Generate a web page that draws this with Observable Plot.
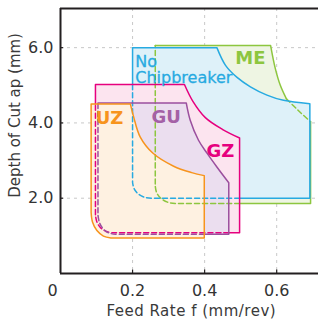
<!DOCTYPE html>
<html><head><meta charset="utf-8">
<script src="https://cdn.jsdelivr.net/npm/d3@7"></script>
<script src="https://cdn.jsdelivr.net/npm/@observablehq/plot@0.6"></script>
<style>body{margin:0;background:#fff;} svg{display:block}</style>
</head><body><div id="chart"></div>
<script>
// ---- data (feed rate mm/rev, depth of cut mm, sharp-corner flag) ----
const xTicks = [0.2, 0.4, 0.6];
const yTicks = [2, 4, 6];
const xLabel = "Feed Rate f (mm/rev)";
const yLabel = "Depth of Cut ap (mm)";

const labelNames = ["ME", "No\nChipbreaker", "GZ", "GU", "UZ"];
const labelFeed  = [0.527, 0.2075, 0.444, 0.293, 0.136];
const labelDepth = [5.71, 5.80, 3.26, 4.15, 4.12];

const meOutline = [
  [0.263, 6.06, 1], [0.583, 6.06, 1], [0.596, 5.45, 0], [0.610, 5.00, 0], [0.627, 4.64, 0],
  [0.660, 4.33, 0], [0.694, 4.03, 1], [0.694, 1.86, 1], [0.497, 1.86, 1], [0.318, 1.86, 1],
  [0.297, 1.895, 0], [0.279, 1.995, 0], [0.267, 2.144, 0], [0.263, 2.32, 1]
];
const noneOutline = [
  [0.200, 6.00, 1], [0.434, 6.00, 1], [0.458, 5.53, 0], [0.490, 5.21, 0], [0.527, 4.96, 0],
  [0.573, 4.74, 0], [0.619, 4.60, 0], [0.692, 4.51, 1], [0.692, 2.00, 1], [0.497, 2.00, 1],
  [0.252, 2.00, 1], [0.232, 2.03, 0], [0.215, 2.12, 0], [0.204, 2.26, 0], [0.200, 2.42, 1],
  [0.200, 5.02, 1]
];
const gzOutline = [
  [0.097, 5.02, 1], [0.344, 5.02, 1], [0.367, 4.58, 0], [0.402, 4.14, 0], [0.449, 3.83, 0],
  [0.497, 3.60, 1], [0.497, 1.08, 1], [0.467, 1.08, 1], [0.146, 1.08, 1], [0.127, 1.116, 0],
  [0.111, 1.218, 0], [0.101, 1.37, 0], [0.097, 1.55, 1], [0.097, 4.50, 1]
];
const guOutline = [
  [0.104, 4.53, 1], [0.349, 4.53, 1], [0.360, 4.07, 0], [0.383, 3.54, 0], [0.407, 3.19, 0],
  [0.434, 2.83, 0], [0.467, 2.41, 1], [0.467, 1.04, 1], [0.399, 1.04, 1], [0.153, 1.04, 1],
  [0.134, 1.079, 0], [0.118, 1.19, 0], [0.108, 1.355, 0], [0.104, 1.55, 1], [0.104, 4.50, 1]
];
const uzOutline = [
  [0.085, 4.50, 1], [0.194, 4.50, 1], [0.203, 4.16, 0], [0.221, 3.63, 0], [0.256, 3.20, 0],
  [0.314, 2.85, 0], [0.364, 2.68, 0], [0.399, 2.60, 1], [0.399, 0.945, 1], [0.140, 0.945, 1],
  [0.119, 0.995, 0], [0.101, 1.14, 0], [0.089, 1.36, 0], [0.085, 1.62, 1]
];

// ---- styling ----
const regions = [
  {outline: meOutline,   stroke: "#8dc63f", fill: "#eef5e3", solid: [[0, 4], [6, 8]], dashed: [[4, 6], [8, 0]]},
  {outline: noneOutline, stroke: "#27aae1", fill: "#def1f9", solid: [[15, 9]], dashed: [[9, 15]]},
  {outline: gzOutline,   stroke: "#e6007e", fill: "#fce4ef", solid: [[13, 7]], dashed: [[7, 13]]},
  {outline: guOutline,   stroke: "#9b4f9e", fill: "#ebdeef", solid: [[14, 8]], dashed: [[8, 14]]},
  {outline: uzOutline,   stroke: "#f7941d", fill: "#fef1e1", solid: [[0, 0]], dashed: []}
];
const labelColors = ["#8dc63f", "#27aae1", "#e6007e", "#a461a6", "#f7941d"];

function expand(pts) {
  const out = [];
  for (const p of pts) {
    out.push({x: p[0], y: p[1]});
    if (p[2]) out.push({x: p[0], y: p[1]});
  }
  return out;
}
function piece(outline, a, b) {
  const n = outline.length;
  const count = a === b ? n + 1 : ((b - a + n) % n) + 1;
  const pts = [];
  for (let k = 0; k < count; k++) pts.push(outline[(a + k) % n]);
  return expand(pts);
}

const marks = [];
// grid
marks.push(Plot.ruleX(xTicks, {x: d => d, stroke: "#c8c8c8", strokeDasharray: "3,4"}));
marks.push(Plot.ruleY(yTicks, {y: d => d, stroke: "#c8c8c8", strokeDasharray: "3,4"}));
// fills
for (const r of regions) {
  marks.push(Plot.line(piece(r.outline, 0, 0), {x: "x", y: "y", curve: "catmull-rom", fill: r.fill, stroke: "none"}));
}
// outlines
for (const r of regions) {
  for (const [a, b] of r.dashed)
    marks.push(Plot.line(piece(r.outline, a, b), {x: "x", y: "y", curve: "catmull-rom", stroke: r.stroke, strokeWidth: 1.5, strokeDasharray: "5,3"}));
  for (const [a, b] of r.solid)
    marks.push(Plot.line(piece(r.outline, a, b), {x: "x", y: "y", curve: "catmull-rom", stroke: r.stroke, strokeWidth: 1.5}));
}
// region labels
const labelData = labelNames.map((name, i) => ({name, x: labelFeed[i], y: labelDepth[i], c: labelColors[i]}));
marks.push(Plot.text(labelData.filter(d => !d.name.includes("\n")), {
  x: "x", y: "y", text: "name", fill: d => d.c, fontSize: 18, fontWeight: "bold", lineAnchor: "middle"
}));
marks.push(Plot.text(labelData.filter(d => d.name.includes("\n")), {
  x: "x", y: "y", text: "name", fill: d => d.c, fontSize: 16, textAnchor: "start", lineAnchor: "top", lineHeight: 1.0,
  stroke: d => d.c, strokeWidth: 0.3
}));
// frame
const yTop = 7.04;
marks.push(Plot.ruleX([0], {x: d => d, stroke: "#231f20", strokeWidth: 2}));
marks.push(Plot.ruleY([0, yTop], {y: d => d, stroke: "#231f20", strokeWidth: 2}));
marks.push(Plot.ruleX(xTicks, {x: d => d, y1: 0, y2: 0.09, stroke: "#231f20", strokeWidth: 1.2}));
marks.push(Plot.ruleY(yTicks, {y: d => d, x1: 0, x2: 0.009, stroke: "#231f20", strokeWidth: 1.2}));
// tick labels
marks.push(Plot.text(xTicks, {x: d => d, y: 0, text: d => d.toFixed(1), dy: 17, fontSize: 16, fill: "#333", lineAnchor: "middle"}));
marks.push(Plot.text([0], {x: d => d, y: 0, text: () => "0", dx: -8, dy: 17, fontSize: 16, fill: "#333", lineAnchor: "middle"}));
marks.push(Plot.text(yTicks, {x: 0, y: d => d, text: d => d.toFixed(1), dx: -7, textAnchor: "end", fontSize: 16, fill: "#333", lineAnchor: "middle"}));
// axis titles
marks.push(Plot.text([xLabel], {x: 0.363, frameAnchor: "bottom", text: d => d, dy: 38, fontSize: 15, fill: "#3a3a3a", lineAnchor: "middle"}));
marks.push(Plot.text([yLabel], {x: -0.126, y: 4.2, text: d => d, rotate: -90, fontSize: 15, fill: "#3a3a3a", lineAnchor: "middle", textAnchor: "middle"}));

const chart = Plot.plot({
  width: 318, height: 321,
  marginLeft: 60, marginRight: 0, marginTop: 8, marginBottom: 48,
  x: {domain: [0, 0.716], axis: null},
  y: {domain: [0, yTop], axis: null},
  style: {fontFamily: "DejaVu Sans", background: "#fff", overflow: "visible"},
  marks
});
d3.select(chart).selectAll("text").filter(function() { return this.textContent === xLabel; }).attr("letter-spacing", 0.5);
document.getElementById("chart").appendChild(chart);
</script>
</body></html>
